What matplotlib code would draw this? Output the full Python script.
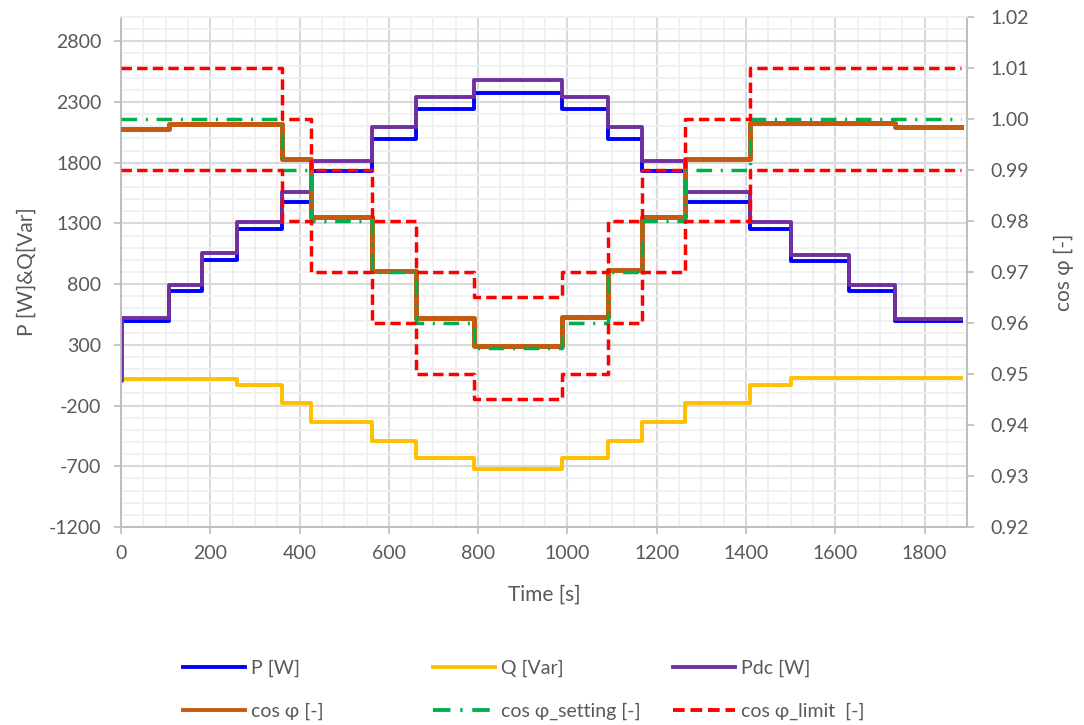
import numpy as np
import matplotlib.pyplot as plt
from matplotlib.lines import Line2D
from matplotlib.ticker import MultipleLocator, FixedLocator, FormatStrFormatter

# step boundaries [s] and the level held in each step
t_edges = [0, 108, 181, 259, 360, 425, 562, 661, 790, 988, 1091, 1167, 1263, 1409, 1500, 1631, 1734, 1881]
p_w = [500, 745, 995, 1250, 1480, 1735, 1995, 2240, 2370, 2240, 1995, 1730, 1480, 1255, 990, 745, 500]
q_var = [20, 20, 20, -30, -178, -335, -490, -632, -720, -630, -490, -335, -176, -32, 26, 30, 30]
pdc_edges = [0, 2, 108, 181, 259, 360, 425, 562, 661, 790, 988, 1091, 1167, 1263, 1409, 1500, 1631, 1734, 1881]
pdc_w = [0, 518, 795, 1055, 1315, 1555, 1810, 2090, 2345, 2480, 2345, 2090, 1810, 1562, 1315, 1040, 790, 515]
cos_phi = [0.998, 0.999, 0.999, 0.999, 0.9922, 0.9808, 0.9702, 0.961, 0.9554, 0.9612, 0.9704,
           0.9808, 0.9922, 0.9992, 0.9992, 0.9992, 0.9984]
cos_set = [1.00, 1.00, 1.00, 1.00, 0.99, 0.98, 0.97, 0.96, 0.955, 0.96, 0.97, 0.98, 0.99, 1.00, 1.00, 1.00, 1.00]
lim_hi = [1.01, 1.01, 1.01, 1.01, 1.00, 0.99, 0.98, 0.97, 0.965, 0.97, 0.98, 0.99, 1.00, 1.01, 1.01, 1.01, 1.01]
lim_lo = [0.99, 0.99, 0.99, 0.99, 0.98, 0.97, 0.96, 0.95, 0.945, 0.95, 0.96, 0.97, 0.98, 0.99, 0.99, 0.99, 0.99]

names = ["P [W]", "Q [Var]", "Pdc [W]", "cos \u03c6 [-]", "cos \u03c6_setting [-]", "cos \u03c6_limit  [-]"]
colors = ["#0000FF", "#FFC000", "#7030A0", "#C55A11", "#00B050", "#FF0000"]

TXT = "#595959"
plt.rcParams['font.family'] = ['Lato', 'DejaVu Sans']
plt.rcParams['axes.unicode_minus'] = False


def stairs(edges, levels):
    return np.asarray(edges, float), np.append(levels, levels[-1])


fig = plt.figure(figsize=(10.84, 7.25), dpi=100)
ax = fig.add_axes([0.1116, 0.2731, 0.892 - 0.1116, 0.9766 - 0.2731])
ax2 = ax.twinx()

dash_limit = (0, (3.0, 1.5))
dash_set = (0, (4.5, 2.5, 0.6, 2.5))

ax.step(*stairs(t_edges, p_w), where='post', color=colors[0], lw=2.8, zorder=3)
ax.step(*stairs(t_edges, q_var), where='post', color=colors[1], lw=2.8, zorder=4)
ax.step(*stairs(pdc_edges, pdc_w), where='post', color=colors[2], lw=2.8, zorder=5)

ax2.step(*stairs(t_edges, cos_phi), where='post', color=colors[3], lw=3.6, zorder=3)
ax2.step(*stairs(t_edges, cos_set), where='post', color=colors[4], lw=2.5, ls=dash_set, zorder=4)
ax2.step(*stairs(t_edges, lim_hi), where='post', color=colors[5], lw=2.5, ls=dash_limit, zorder=5)
ax2.step(*stairs(t_edges, lim_lo), where='post', color=colors[5], lw=2.5, ls=dash_limit, zorder=5)

# axes ranges and grid
ax.set_xlim(0, 1895)
ax.set_ylim(-1200, 3000)
ax2.set_ylim(0.92, 1.02)
ax.xaxis.set_major_locator(MultipleLocator(200))
ax.xaxis.set_minor_locator(MultipleLocator(50))
ax.yaxis.set_major_locator(FixedLocator(np.arange(-1200, 2801, 500)))
ax.yaxis.set_minor_locator(MultipleLocator(100))
ax2.yaxis.set_major_locator(MultipleLocator(0.01))
ax2.yaxis.set_major_formatter(FormatStrFormatter('%.2f'))

ax.set_axisbelow(True)
ax.grid(which='minor', color='#F0F0F0', lw=1.3, zorder=0)
ax.grid(which='major', color='#D9D9D9', lw=1.5, zorder=1)

for a in (ax, ax2):
    a.tick_params(which='major', colors='#BFBFBF', labelcolor=TXT, labelsize=14, length=5, width=1.3)
    a.tick_params(which='minor', length=0)
    for s in a.spines.values():
        s.set_color('#BFBFBF')
        s.set_linewidth(1.3)
    a.spines['top'].set_color('#F0F0F0')
ax.tick_params(axis='x', pad=8)
ax.tick_params(axis='y', pad=9)
ax2.tick_params(axis='y', pad=12)

ax.set_xlabel("Time [s]", fontsize=15, color=TXT, labelpad=16)
ax.set_ylabel("P [W]&Q[Var]", fontsize=15, color=TXT, labelpad=9)
ax2.set_ylabel("cos \u03c6 [-]", fontsize=15, color=TXT, labelpad=18)

# legend laid out like the spreadsheet one: three columns of two rows
styles = ['-', '-', '-', '-', dash_set, dash_limit]
handles = [Line2D([], [], color=c, lw=2.8, ls=s) for c, s in zip(colors, styles)]
col_x = [183, 433, 673]
for k, x0 in enumerate(col_x):
    fig.legend([handles[k], handles[k + 3]], [names[k], names[k + 3]],
               loc='upper left', bbox_to_anchor=(x0 / 1084, 1 - 660 / 725),
               frameon=False, fontsize=14, labelcolor=TXT, handlelength=3.2,
               handletextpad=0.3, labelspacing=1.3, borderpad=0, borderaxespad=0)

fig.savefig("out.png", dpi=100)
